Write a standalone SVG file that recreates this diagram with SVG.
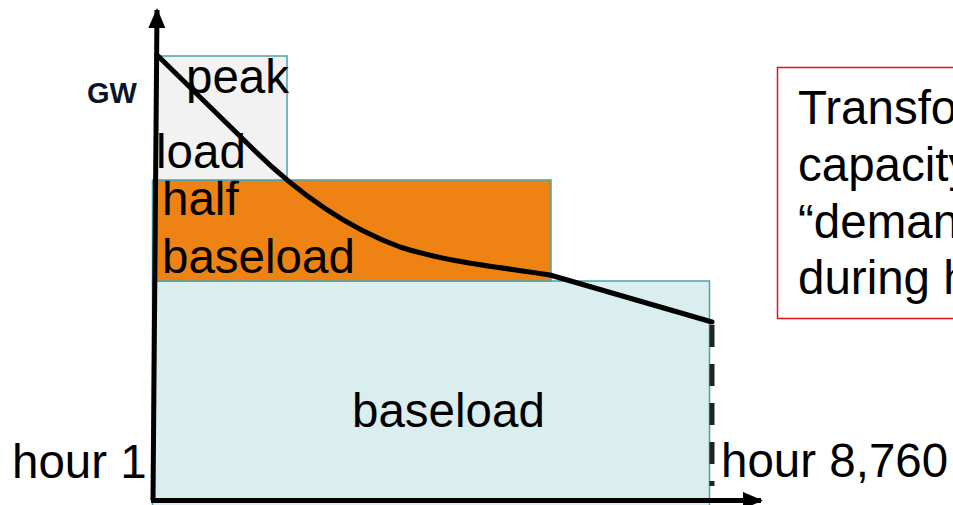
<svg xmlns="http://www.w3.org/2000/svg" width="953" height="505" viewBox="0 0 953 505">
<defs>
<style>
.t{font-family:"Liberation Sans",Arial,sans-serif;font-size:47.5px;fill:#000}
.blk{stroke:#4aa3ad;stroke-width:1.5}
</style>
<marker id="ah" markerWidth="4" markerHeight="4" refX="3.6" refY="2" orient="auto" markerUnits="strokeWidth" viewBox="0 0 4 4">
<path d="M0,0.3 L4,2 L0,3.7 Z" fill="#000"/>
</marker>
</defs>
<rect width="953" height="505" fill="#fff"/>
<g id="baseload">
<rect x="152.5" y="281" width="557" height="225" fill="#daedef" class="blk"/>
<text class="t" x="352" y="427">baseload</text>
</g>
<g id="half-baseload">
<rect x="152.5" y="180" width="398.5" height="101" fill="#ee8213" class="blk"/>
<text class="t" x="162" y="215">half</text>
<text class="t" x="162" y="273">baseload</text>
</g>
<g id="peak-load">
<rect x="156" y="56" width="131" height="124" fill="#f2f2f2" class="blk"/>
<text class="t" x="186" y="93">peak</text>
<text class="t" x="156" y="168">load</text>
</g>
<g id="connectors">
<line x1="153" y1="500.5" x2="157" y2="10" stroke="#000" stroke-width="5" marker-end="url(#ah)"/>
<line x1="151" y1="500.5" x2="761" y2="500.5" stroke="#000" stroke-width="5" marker-end="url(#ah)"/>
<path d="M157,55 L250,146 C290,186 340,225 400,247 C450,263 500,267 550,275 L712,322" fill="none" stroke="#000" stroke-width="5" stroke-linejoin="round" stroke-linecap="round"/>
<line x1="712" y1="325" x2="712" y2="486" stroke="#222" stroke-width="5" stroke-dasharray="22,17"/>
</g>
<g id="labels">
<text x="87" y="103" font-family="Liberation Sans,Arial,sans-serif" font-size="29" font-weight="bold" fill="#0b1526">GW</text>
<text class="t" x="12" y="478">hour 1</text>
<text class="t" x="721" y="477">hour 8,760</text>
</g>
<g id="note">
<rect x="777.5" y="67.5" width="190" height="251" fill="#fff" stroke="#e81010" stroke-width="1.5"/>
<text class="t" x="798" y="124">Transfo</text>
<text class="t" x="798" y="181">capacity</text>
<text class="t" x="798" y="238">“deman</text>
<text class="t" x="798" y="294">during h</text>
</g>
</svg>
